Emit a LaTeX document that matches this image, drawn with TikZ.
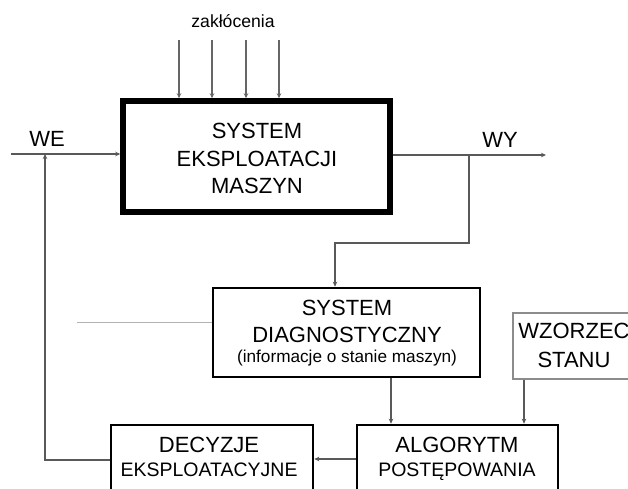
\documentclass[tikz,border=0pt]{standalone}
\usepackage{fontspec}
\setmainfont{Liberation Sans}
\usetikzlibrary{arrows.meta}
\begin{document}
\begin{tikzpicture}[x=1pt,y=-1pt,
  box/.style={draw=black,fill=white,inner sep=0pt,rectangle},
  mainbox/.style={box,line width=5.5pt,minimum width=267pt,minimum height=111pt},
  midbox/.style={box,line width=2.6pt},
  thinbox/.style={box,draw=black!45,line width=1.3pt},
  big/.style={font=\fontsize{22}{27}\selectfont,inner sep=0pt,anchor=base},
  mid/.style={font=\fontsize{19.5}{24}\selectfont,inner sep=0pt,anchor=base},
  small/.style={font=\fontsize{17.2}{20}\selectfont,inner sep=0pt,anchor=base},
  conn/.style={draw=black!65,line width=1.3pt},
  arr/.style={conn,-{Stealth[length=5pt,width=4.5pt]}},
  noise/.style={draw=black!60,line width=1.5pt,-{Stealth[length=5pt,width=4.5pt]}}
]
\useasboundingbox (0,0) rectangle (628,488);

% boxes
\node[mainbox] (main) at (256.5,156.5) {};
\node[midbox,minimum width=267pt,minimum height=89pt] (diag) at (346.5,332.5) {};
\node[thinbox,minimum width=122pt,minimum height=66pt] (wz) at (574,346) {};
\node[midbox,minimum width=201pt,minimum height=90pt] (alg) at (457.5,470) {};
\node[midbox,minimum width=202pt,minimum height=90pt] (dec) at (212,470) {};

% box texts
\node[big] (m1) at (257,138) {SYSTEM};
\node[big] (m2) at (257,166) {EKSPLOATACJI};
\node[big] (m3) at (257,193) {MASZYN};
\node[big] (d1) at (347,315) {SYSTEM};
\node[big] (d2) at (347,342) {DIAGNOSTYCZNY};
\node[small] (d3) at (347,362) {(informacje o stanie maszyn)};
\node[big] (w1) at (574,338) {WZORZEC};
\node[big] (w2) at (574,367) {STANU};
\node[big] (a1) at (457,452) {ALGORYTM};
\node[mid] (a2) at (457,476) {POSTĘPOWANIA};
\node[big] (e1) at (209,452) {DECYZJE};
\node[mid] (e2) at (209,476) {EKSPLOATACYJNE};

% free labels
\node[small,font=\fontsize{17.6}{20}\selectfont] (zak) at (233,27) {zakłócenia};
\node[big] (we) at (47,146) {WE};
\node[big] (wy) at (500,147) {WY};

% disturbances
\foreach \x/\n in {179/z1,212/z2,246/z3,279/z4}{
  \coordinate (\n) at (\x,40);
  \draw[noise] (\n) -- (\n |- main.north);
}

% input, output and feedback
\coordinate (we0) at (11,154);
\draw[arr] (we0) -- (we0 -| main.west);
\coordinate (wyA) at (0,155);
\coordinate (wy1) at (546,155);
\draw[arr] (wyA -| main.east) -- (wy1);
\coordinate (br) at (469,155);
\coordinate (bk) at (335,243);
\draw[arr] (br) |- (bk) -- (bk |- diag.north);
\coordinate (fb) at (45,460);
\draw[arr] (dec.west |- fb) -- (fb) -- (fb |- we0);
\coordinate (dl) at (77,322);
\draw[draw=black!30,line width=1pt] (dl) -- (dl -| diag.west);

% into the algorithm and decision
\coordinate (c1) at (391,0);
\draw[arr] (c1 |- diag.south) -- (c1 |- alg.north);
\coordinate (c2) at (524,0);
\draw[arr] (c2 |- wz.south) -- (c2 |- alg.north);
\coordinate (c3) at (0,459);
\draw[arr] (c3 -| alg.west) -- (c3 -| dec.east);
\end{tikzpicture}
\end{document}
